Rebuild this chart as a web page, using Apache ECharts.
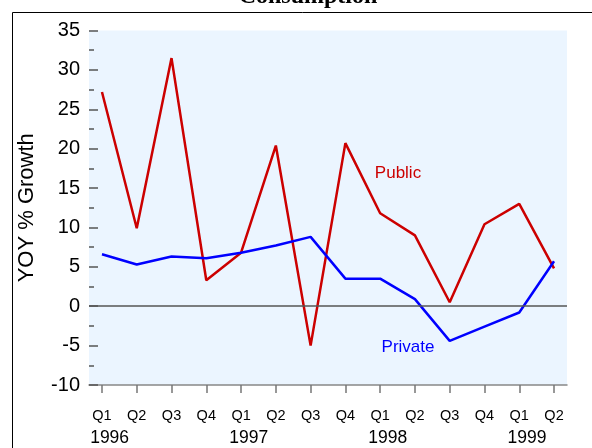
<!DOCTYPE html>
<html>
<head>
<meta charset="utf-8">
<script src="https://cdn.jsdelivr.net/npm/echarts@6/dist/echarts.min.js"></script>
<style>
  html, body { margin: 0; padding: 0; background: #fff; }
  #main { width: 592px; height: 448px; }
</style>
</head>
<body>
<div id="main"></div>
<script>
// data
var quarters = ['Q1', 'Q2', 'Q3', 'Q4', 'Q1', 'Q2', 'Q3', 'Q4', 'Q1', 'Q2', 'Q3', 'Q4', 'Q1', 'Q2'];
var years = ['1996', '1997', '1998', '1999'];
var yearAt = [0, 4, 8, 12];
var publicGrowth = [27.2, 9.9, 31.5, 3.3, 6.8, 20.4, -5.0, 20.7, 11.8, 9.0, 0.5, 10.4, 13.0, 4.8];
var privateGrowth = [6.6, 5.3, 6.3, 6.1, 6.8, 7.7, 8.8, 3.5, 3.5, 0.9, -4.4, -2.6, -0.8, 5.7];
var yTicks = [-10, 35, 5];

var chart = echarts.init(document.getElementById('main'));

function pairs(arr) {
  return arr.map(function (v, i) { return [i, v]; });
}
var idx = quarters.map(function (q, i) { return i; });
var yearPos = yearAt.map(function (i) { return i + 0.22; });

var option = {
  animation: false,
  textStyle: { fontFamily: 'Liberation Sans' },
  graphic: [
    {
      type: 'rect',
      shape: { x: 12.5, y: 12.5, width: 620, height: 480 },
      style: { fill: 'none', stroke: '#000', lineWidth: 1 }
    },
    {
      type: 'text',
      x: 308, y: 9,
      style: {
        text: 'Consumption', fill: '#000',
        font: 'bold 24px "Liberation Serif"',
        textAlign: 'center', textVerticalAlign: 'bottom'
      }
    },
    {
      type: 'text',
      x: 398, y: 173,
      style: {
        text: 'Public', fill: '#cc0000',
        font: '17px "Liberation Sans"',
        textAlign: 'center', textVerticalAlign: 'middle'
      }
    },
    {
      type: 'text',
      x: 408, y: 347,
      style: {
        text: 'Private', fill: '#0000ff',
        font: '17px "Liberation Sans"',
        textAlign: 'center', textVerticalAlign: 'middle'
      }
    }
  ],
  grid: {
    left: 89, right: 25, top: 30.5, bottom: 63,
    show: true, backgroundColor: '#ebf5ff', borderWidth: 0
  },
  xAxis: [
    {
      type: 'value',
      min: -0.373, max: 13.373,
      axisLine: { show: true, onZero: false, lineStyle: { color: '#888', width: 1.5 } },
      axisTick: { show: true, customValues: idx, length: 8, lineStyle: { color: '#777', width: 1.5 } },
      axisLabel: {
        customValues: idx, margin: 23,
        fontSize: 14.5, color: '#000',
        formatter: function (v) { return quarters[Math.round(v)]; }
      },
      splitLine: { show: false }
    },
    {
      type: 'value',
      position: 'bottom',
      min: -0.373, max: 13.373,
      axisLine: { show: false, onZero: false },
      axisTick: { show: false },
      axisLabel: {
        customValues: yearPos, margin: 44,
        fontSize: 17.5, color: '#000',
        formatter: function (v) { return years[yearPos.indexOf(v)]; }
      },
      splitLine: { show: false }
    }
  ],
  yAxis: {
    type: 'value',
    min: yTicks[0], max: yTicks[1], interval: yTicks[2],
    name: 'YOY % Growth',
    nameLocation: 'middle',
    nameGap: 51,
    nameTextStyle: { fontSize: 22, color: '#000' },
    axisLine: { show: false, onZero: false },
    axisTick: { show: true, inside: true, length: 9, lineStyle: { color: '#555', width: 1.5 } },
    minorTick: { show: true, splitNumber: 2, length: 5, lineStyle: { color: '#555', width: 1.5 } },
    axisLabel: { fontSize: 20, color: '#000', margin: 9 },
    splitLine: { show: false }
  },
  series: [
    {
      name: 'Public',
      type: 'line',
      data: pairs(publicGrowth),
      symbol: 'none',
      lineStyle: { color: '#cc0000', width: 2.5 },
      markLine: {
        silent: true,
        symbol: 'none',
        label: { show: false },
        lineStyle: { color: '#555', width: 1.5, type: 'solid' },
        data: [{ yAxis: 0 }]
      },
      z: 3
    },
    {
      name: 'Private',
      type: 'line',
      data: pairs(privateGrowth),
      symbol: 'none',
      lineStyle: { color: '#0000ff', width: 2.5 },
      z: 3
    }
  ]
};
chart.setOption(option);
window.addEventListener('resize', function () {
  chart.resize();
});
</script>
</body>
</html>
